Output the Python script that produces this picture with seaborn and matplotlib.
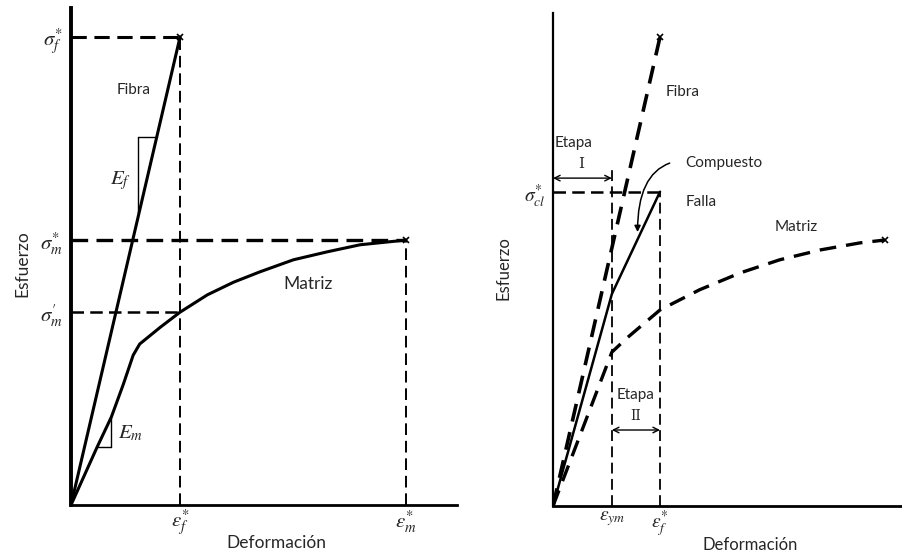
import numpy as np
import pandas as pd
import matplotlib
matplotlib.use("Agg")
import matplotlib.pyplot as plt
import seaborn as sns

# ---------------- data (arbitrary units: strain, stress) ----------------
# Left panel
fiber_strain = [0.0, 1.0]
fiber_stress = [0.0, 10.0]
matrix_strain = [0.0, 0.24, 0.37, 0.48, 0.57, 0.63, 0.82, 1.00, 1.25, 1.49,
                 1.73, 2.04, 2.35, 2.65, 2.90, 3.07]
matrix_stress = [0.0, 1.24, 1.88, 2.58, 3.20, 3.44, 3.80, 4.12, 4.49, 4.76,
                 4.98, 5.24, 5.41, 5.56, 5.62, 5.66]
sigma_f_star = 10.0
sigma_m_star = 5.66
sigma_m_prime = 4.12
eps_f_star = 1.0
eps_m_star = 3.07

# Right panel
r_fiber_strain = [0.0, 1.0]
r_fiber_stress = [0.0, 10.0]
comp_strain = [0.0, 0.55, 1.0]
comp_stress = [0.0, 4.52, 6.70]
r_matrix_strain = [0.0, 0.55, 0.69, 1.00, 1.37, 1.75, 2.12, 2.50, 2.87, 3.10]
r_matrix_stress = [0.0, 3.28, 3.58, 4.18, 4.61, 4.97, 5.25, 5.46, 5.61, 5.67]
sigma_cl_star = 6.70
eps_ym = 0.55
r_eps_f_star = 1.0

left_yticklabels = [r"$\sigma^{*}_{f}$", r"$\sigma^{*}_{m}$", r"$\sigma^{\prime}_{m}$"]
left_xticklabels = [r"$\epsilon^{*}_{f}$", r"$\epsilon^{*}_{m}$"]
right_yticklabels = [r"$\sigma^{*}_{cl}$"]
right_xticklabels = [r"$\epsilon_{ym}$", r"$\epsilon^{*}_{f}$"]

# ---------------- style ----------------
sns.set_style("white")
plt.rcParams["font.family"] = ["Lato", "DejaVu Sans"]
plt.rcParams["mathtext.fontset"] = "stix"

W, H = 903, 557
fig = plt.figure(figsize=(W / 100, H / 100), dpi=100)

def px_axes(x0, y_bottom, x1, y_top):
    return fig.add_axes([x0 / W, (H - y_bottom) / H, (x1 - x0) / W, (y_bottom - y_top) / H])

axL = px_axes(71, 505, 457, 8)
axR = px_axes(553, 506, 903, 13)

K = "black"
dash = (5, 2.5)

for ax in (axL, axR):
    for s in ("top", "right"):
        ax.spines[s].set_visible(False)
    ax.spines["left"].set_color(K)
    ax.spines["bottom"].set_color(K)
    ax.tick_params(length=0)
    ax.set_facecolor("white")

# ---------------- left panel ----------------
axL.set_xlim(0, 3.54)
axL.set_ylim(0, 10.62)
axL.spines["left"].set_linewidth(2.8)
axL.spines["bottom"].set_linewidth(2.0)

sns.lineplot(x=fiber_strain, y=fiber_stress, ax=axL, color=K, lw=2.2,
             sort=False, estimator=None)
sns.lineplot(x=matrix_strain, y=matrix_stress, ax=axL, color=K, lw=2.2,
             sort=False, estimator=None)

# reference dashed lines
axL.plot([0, eps_f_star], [sigma_f_star, sigma_f_star], color=K, lw=2.2, dashes=dash)
axL.plot([eps_f_star, eps_f_star], [0, sigma_f_star], color=K, lw=1.4, dashes=(6, 3))
axL.plot([0, eps_m_star], [sigma_m_star, sigma_m_star], color=K, lw=2.4, dashes=dash)
axL.plot([eps_m_star, eps_m_star], [0, sigma_m_star], color=K, lw=1.4, dashes=(6, 3))
axL.plot([0, eps_f_star], [sigma_m_prime, sigma_m_prime], color=K, lw=1.8, dashes=dash)
axL.plot([eps_f_star, eps_m_star], [sigma_f_star, sigma_m_star], ls="none",
         marker="x", ms=5, mew=1.2, color=K)

# slope triangles
ef_x0, ef_y0 = 0.61, 7.86
axL.plot([ef_x0, ef_y0 / 10.0], [ef_y0, ef_y0], color=K, lw=1.0)
axL.plot([ef_x0, ef_x0], [ef_y0, ef_x0 * 10.0 + 0.15], color=K, lw=1.0)
axL.plot([0.37, 0.37], [1.88, 1.24], color=K, lw=1.0)
axL.plot([0.24, 0.37], [1.24, 1.24], color=K, lw=1.0)

axL.text(0.45, 6.94, r"$E_f$", fontsize=15, ha="center", va="center")
axL.text(0.55, 1.54, r"$E_m$", fontsize=15, ha="center", va="center")
axL.text(0.57, 8.87, "Fibra", fontsize=11, ha="center", va="center")
axL.text(2.17, 4.72, "Matriz", fontsize=12.5, ha="center", va="center")

axL.set_yticks([sigma_f_star, sigma_m_star, sigma_m_prime])
axL.set_yticklabels(left_yticklabels, fontsize=15)
axL.set_xticks([eps_f_star, eps_m_star])
axL.set_xticklabels(left_xticklabels, fontsize=15)
axL.tick_params(axis="y", pad=6)
axL.tick_params(axis="x", pad=2)

axL.set_xlabel("Deformación", fontsize=12.5)
axL.set_ylabel("Esfuerzo", fontsize=12.5)
axL.xaxis.set_label_coords(0.531, -0.0765)
axL.xaxis.label.set_va("center")
axL.yaxis.set_label_coords(-0.127, 0.485)
axL.yaxis.label.set_va("center")

# ---------------- right panel ----------------
axR.set_xlim(0, 3.27)
axR.set_ylim(0, 10.51)
axR.spines["left"].set_linewidth(1.6)
axR.spines["bottom"].set_linewidth(2.0)

sns.lineplot(x=r_fiber_strain, y=r_fiber_stress, ax=axR, color=K, lw=2.6,
             sort=False, estimator=None, dashes=False)
axR.lines[-1].set_dashes((5, 3))
sns.lineplot(x=comp_strain, y=comp_stress, ax=axR, color=K, lw=1.8,
             sort=False, estimator=None)
sns.lineplot(x=r_matrix_strain, y=r_matrix_stress, ax=axR, color=K, lw=2.4,
             sort=False, estimator=None)
axR.lines[-1].set_dashes((5, 3))

axR.plot([r_fiber_strain[-1], r_matrix_strain[-1]],
         [r_fiber_stress[-1], r_matrix_stress[-1]], ls="none",
         marker="x", ms=5, mew=1.2, color=K)

axR.plot([0, r_eps_f_star], [sigma_cl_star, sigma_cl_star], color=K, lw=1.8, dashes=dash)
axR.plot([eps_ym, eps_ym], [0, 7.23], color=K, lw=1.3, dashes=(6, 3))
axR.plot([r_eps_f_star, r_eps_f_star], [0, sigma_cl_star], color=K, lw=1.3, dashes=(6, 3))

# stage arrows
axR.annotate("", xy=(0, 6.99), xytext=(eps_ym, 6.99),
             arrowprops=dict(arrowstyle="<->", color=K, lw=1.0, shrinkA=0, shrinkB=0))
axR.annotate("", xy=(eps_ym, 1.62), xytext=(r_eps_f_star, 1.62),
             arrowprops=dict(arrowstyle="<->", color=K, lw=1.0, shrinkA=0, shrinkB=0))
axR.text(0.19, 7.74, "Etapa", fontsize=11, ha="center", va="center")
axR.text(0.26, 7.30, "I", fontsize=11, ha="center", va="center", family="DejaVu Serif")
axR.text(0.77, 2.37, "Etapa", fontsize=11, ha="center", va="center")
axR.text(0.77, 1.92, "II", fontsize=10, ha="center", va="center", family="DejaVu Serif")

# Compuesto curved arrow
axR.annotate("", xy=(0.79, 5.84), xytext=(1.09, 7.31),
             arrowprops=dict(arrowstyle="-|>", color=K, lw=1.1, shrinkA=0, shrinkB=0,
                             mutation_scale=9,
                             connectionstyle="angle3,angleA=20,angleB=90"))

axR.text(1.21, 8.83, "Fibra", fontsize=11, ha="center", va="center")
axR.text(1.60, 7.31, "Compuesto", fontsize=11, ha="center", va="center")
axR.text(1.38, 6.48, "Falla", fontsize=11, ha="center", va="center")
axR.text(2.27, 5.95, "Matriz", fontsize=11, ha="center", va="center")

axR.set_yticks([sigma_cl_star])
axR.set_yticklabels(right_yticklabels, fontsize=14)
axR.set_xticks([eps_ym, r_eps_f_star])
axR.set_xticklabels(right_xticklabels, fontsize=14)
axR.tick_params(axis="y", pad=5)
axR.tick_params(axis="x", pad=2)

axR.set_xlabel("Deformación", fontsize=12)
axR.set_ylabel("Esfuerzo", fontsize=12)
axR.xaxis.set_label_coords(0.563, -0.079)
axR.xaxis.label.set_va("center")
axR.yaxis.set_label_coords(-0.14, 0.483)
axR.yaxis.label.set_va("center")

fig.savefig("out.png", dpi=100, facecolor="white")
